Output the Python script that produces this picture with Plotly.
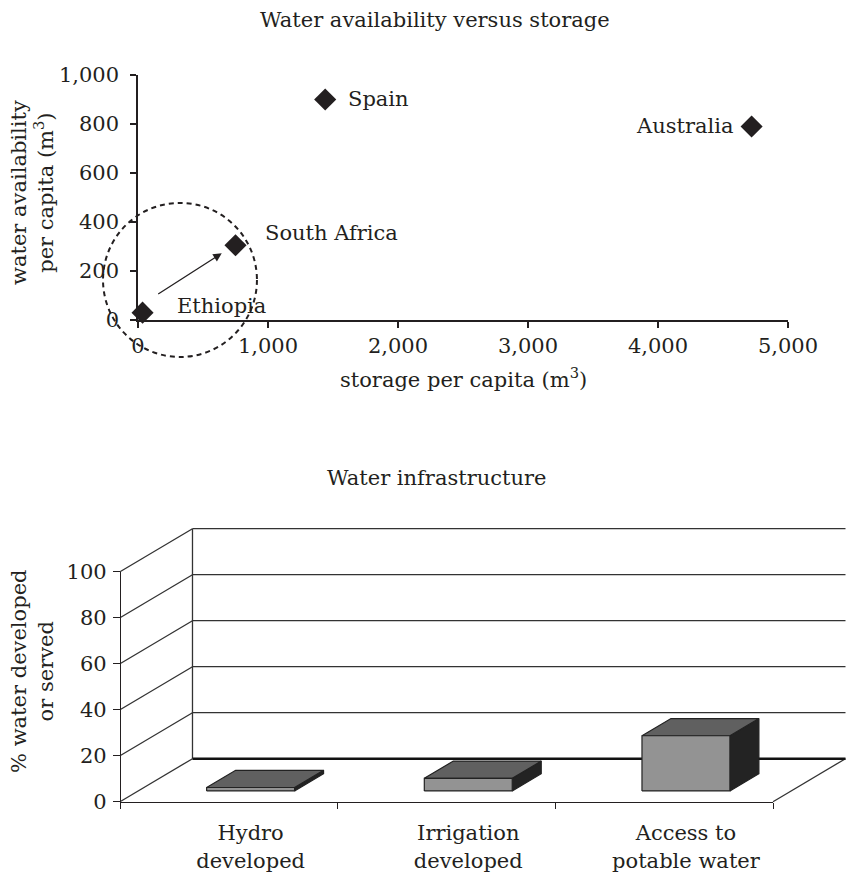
import plotly.graph_objects as go

W, H = 850, 880
FONT = "DejaVu Serif"
INK = "#231f20"
FS = 21

# ---------------- data: top chart ----------------
countries = ["Spain", "Australia", "South Africa", "Ethiopia"]
storage_per_capita = [1440, 4720, 750, 35]
availability_per_capita = [900, 790, 305, 30]
x_ticks_top = [0, 1000, 2000, 3000, 4000, 5000]
y_ticks_top = [0, 200, 400, 600, 800, 1000]

# ---------------- data: bottom chart ----------------
categories = ["Hydro<br>developed", "Irrigation<br>developed", "Access to<br>potable water"]
pct_values = [1.5, 5.5, 24]
y_ticks_bottom = [0, 20, 40, 60, 80, 100]

# ---------------- layout helpers (pixel -> paper) ----------------
def px_x(px):
    return px / W


def px_y(py):
    return 1 - py / H


# top plot area in pixels
TX0, TX1 = 138, 788
TY0, TY1 = 75, 320
TXR = (0, 5000)
TYR = (0, 1000)


def top_to_paper(x, y):
    px = TX0 + (x - TXR[0]) / (TXR[1] - TXR[0]) * (TX1 - TX0)
    py = TY1 - (y - TYR[0]) / (TYR[1] - TYR[0]) * (TY1 - TY0)
    return px_x(px), px_y(py)


# bottom chart geometry (category units / percent units)
UX = 217.67   # px per category unit
UY = 2.3      # px per percent
FX0 = 120     # px of front-left corner (x=-0.5)
FY0 = 801.7   # px of front floor (y=0)
DX = 0.333    # depth offset in category units
DY = 18.7     # depth offset in percent units
OFF = 0.10    # bar front centre offset from category index
BW = 0.404    # bar width
D0 = 0.25     # bar front depth fraction
BD = 0.40     # bar depth fraction

BXR = (-0.55, 2.85)
BYR = (-2, 120)
bx0_px = FX0 + (BXR[0] + 0.5) * UX
bx1_px = FX0 + (BXR[1] + 0.5) * UX
by0_px = FY0 - BYR[0] * UY
by1_px = FY0 - BYR[1] * UY

fig = go.Figure()

# ---------------- top scatter ----------------
fig.add_trace(go.Scatter(
    x=storage_per_capita, y=availability_per_capita, mode="markers",
    marker=dict(symbol="diamond", size=17, color=INK),
    cliponaxis=False, showlegend=False, hoverinfo="skip",
    xaxis="x", yaxis="y"))

label_pos = {
    "Spain": dict(xanchor="left", xshift=21, yshift=0),
    "Australia": dict(xanchor="right", xshift=-17, yshift=0),
    "South Africa": dict(xanchor="left", xshift=27, yshift=12),
    "Ethiopia": dict(xanchor="left", xshift=32, yshift=7),
}
annotations = []
for c, xv, yv in zip(countries, storage_per_capita, availability_per_capita):
    p = label_pos[c]
    annotations.append(dict(x=xv, y=yv, xref="x", yref="y", text=c, showarrow=False,
                            xanchor=p["xanchor"], yanchor="middle",
                            xshift=p["xshift"], yshift=p["yshift"],
                            font=dict(family=FONT, size=FS, color=INK)))

# arrow Ethiopia -> South Africa
annotations.append(dict(x=644, y=272, ax=144, ay=102, xref="x", yref="y",
                        axref="x", ayref="y", text="", showarrow=True,
                        arrowhead=2, arrowsize=1.3, arrowwidth=1.3, arrowcolor=INK,
                        standoff=0))

# dashed ellipse around the two countries (data units -> paper)
cx0, cy0 = top_to_paper(-269, -151)
cx1, cy1 = top_to_paper(915, 478)
shapes = [dict(type="circle", xref="paper", yref="paper", x0=cx0, y0=cy0, x1=cx1, y1=cy1,
               line=dict(color=INK, width=2, dash="5px,4px"), layer="above")]

# ---------------- bottom 3D-style bar chart ----------------
gx, gy = [], []
for k in y_ticks_bottom[1:]:
    gx += [-0.5 + DX, 2.5 + DX, None]
    gy += [DY + k, DY + k, None]
gx += [-0.5 + DX, -0.5 + DX, None]
gy += [DY, DY + 100, None]
for k in y_ticks_bottom:
    gx += [-0.5, -0.5 + DX, None]
    gy += [k, DY + k, None]
gx += [2.5, 2.5 + DX, None]
gy += [0, DY, None]
fig.add_trace(go.Scatter(x=gx, y=gy, mode="lines", line=dict(color="#333333", width=1.3),
                         showlegend=False, hoverinfo="skip", xaxis="x2", yaxis="y2"))
fig.add_trace(go.Scatter(x=[-0.5 + DX, 2.5 + DX], y=[DY, DY], mode="lines",
                         line=dict(color="#111111", width=2.6),
                         showlegend=False, hoverinfo="skip", xaxis="x2", yaxis="y2"))

ddx, ddy = BD * DX, BD * DY
yb = D0 * DY
for i, v in enumerate(pct_values):
    xc = i + OFF
    x0, x1 = xc - BW / 2, xc + BW / 2
    side = ([x1, x1 + ddx, x1 + ddx, x1, x1], [yb, yb + ddy, yb + v + ddy, yb + v, yb])
    top = ([x0, x1, x1 + ddx, x0 + ddx, x0], [yb + v, yb + v, yb + v + ddy, yb + v + ddy, yb + v])
    front = ([x0, x1, x1, x0, x0], [yb, yb, yb + v, yb + v, yb])
    for (px_, py_), col in ((side, "#232323"), (top, "#606060"), (front, "#939393")):
        fig.add_trace(go.Scatter(x=px_, y=py_, mode="lines", fill="toself", fillcolor=col,
                                 line=dict(color="#222222", width=1.2),
                                 showlegend=False, hoverinfo="skip", xaxis="x2", yaxis="y2"))

fig.add_trace(go.Scatter(x=[None], y=[None], mode="markers", showlegend=False,
                         hoverinfo="skip", xaxis="x3", yaxis="y3"))

annotations += [
    dict(text="Water availability versus storage", x=px_x(435), y=px_y(20), xref="paper", yref="paper",
         showarrow=False, xanchor="center", yanchor="middle", font=dict(family=FONT, size=FS, color=INK)),
    dict(text="storage per capita (m<sup>3</sup>)", x=px_x(463), y=px_y(378), xref="paper", yref="paper",
         showarrow=False, xanchor="center", yanchor="middle", font=dict(family=FONT, size=FS, color=INK)),
    dict(text="water availability<br>per capita (m<sup>3</sup>)", x=px_x(32), y=px_y(193), xref="paper",
         yref="paper", showarrow=False, textangle=-90, xanchor="center", yanchor="middle",
         font=dict(family=FONT, size=FS, color=INK)),
    dict(text="Water infrastructure", x=px_x(436), y=px_y(478), xref="paper", yref="paper",
         showarrow=False, xanchor="center", yanchor="middle", font=dict(family=FONT, size=FS, color=INK)),
    dict(text="% water developed<br>or served", x=px_x(32), y=px_y(671), xref="paper",
         yref="paper", showarrow=False, textangle=-90, xanchor="center", yanchor="middle",
         font=dict(family=FONT, size=FS, color=INK)),
]

tickfont = dict(family=FONT, size=FS, color=INK)
fig.update_layout(
    width=W, height=H, margin=dict(l=0, r=0, t=0, b=0, autoexpand=False),
    paper_bgcolor="white", plot_bgcolor="rgba(0,0,0,0)",
    showlegend=False,
    xaxis=dict(domain=[px_x(TX0), px_x(TX1)], range=list(TXR), anchor="y", automargin=False,
               tickvals=x_ticks_top, tickformat=",", ticks="outside", ticklen=6,
               tickcolor=INK, tickwidth=1.5, showline=True, linecolor=INK, linewidth=1.5,
               showgrid=False, zeroline=False, tickfont=tickfont),
    yaxis=dict(domain=[px_y(TY1), px_y(TY0)], range=list(TYR), anchor="x", automargin=False,
               tickvals=y_ticks_top, tickformat=",", ticks="outside", ticklen=6,
               tickcolor=INK, tickwidth=1.5, showline=True, linecolor=INK, linewidth=1.5,
               showgrid=False, zeroline=False, tickfont=tickfont, ticklabelstandoff=7),
    xaxis2=dict(domain=[px_x(bx0_px), px_x(bx1_px)], range=list(BXR), anchor="y2", automargin=False,
                tickvals=[i + OFF for i in range(len(categories))], ticktext=categories,
                ticks="", showline=False, showgrid=False, zeroline=False,
                tickfont=tickfont, ticklabelstandoff=12),
    yaxis2=dict(domain=[px_y(by0_px), px_y(by1_px)], range=list(BYR), anchor="x2", automargin=False,
                showticklabels=False, ticks="", showline=False, showgrid=False, zeroline=False),
    xaxis3=dict(domain=[px_x(FX0), px_x(FX0 + 3 * UX)], range=[-0.5, 2.5], anchor="free",
                position=px_y(FY0), tickvals=[-0.5, 0.5, 1.5, 2.5], showticklabels=False,
                automargin=False,
                ticks="outside", ticklen=6, tickcolor=INK, tickwidth=1.3,
                showline=True, linecolor=INK, linewidth=1.3, showgrid=False, zeroline=False),
    yaxis3=dict(domain=[px_y(FY0), px_y(FY0 - 100 * UY)], range=[0, 100], anchor="free",
                position=px_x(FX0), tickvals=y_ticks_bottom, ticks="outside", ticklen=7,
                automargin=False, ticklabelstandoff=2,
                tickcolor=INK, tickwidth=1.3, showline=True, linecolor=INK, linewidth=1.3,
                showgrid=False, zeroline=False, tickfont=tickfont),
    annotations=annotations, shapes=shapes,
)

fig.write_html("out.html")
